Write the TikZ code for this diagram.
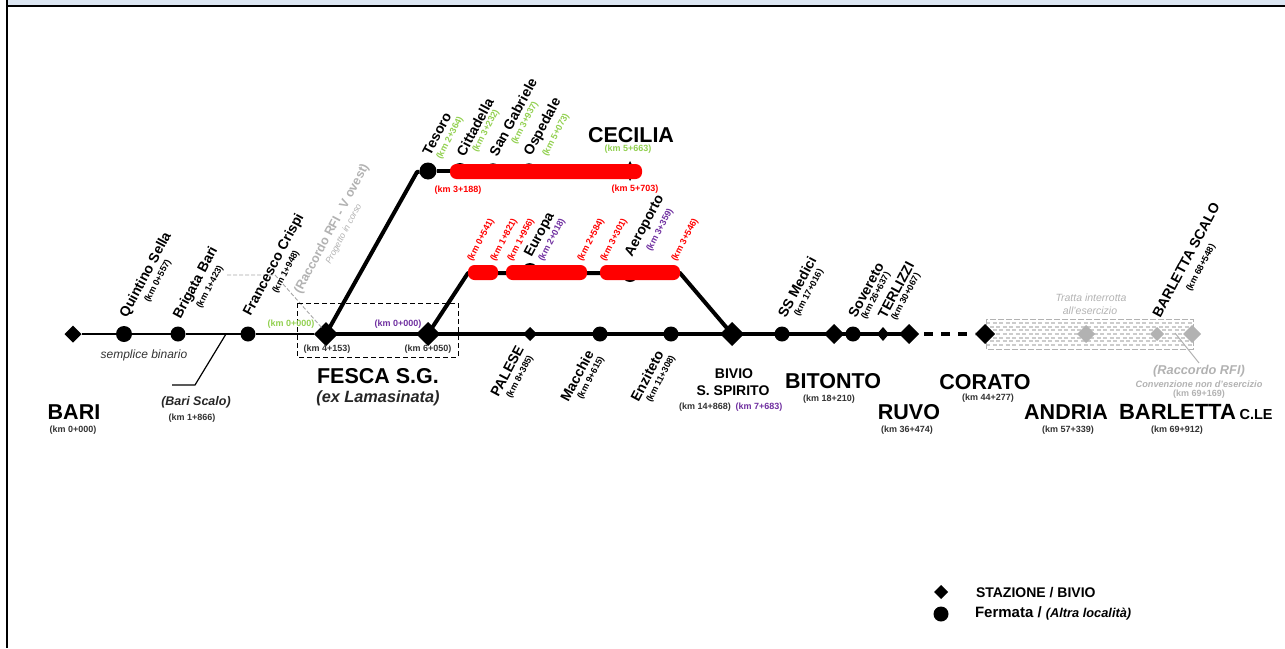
\documentclass[tikz,border=0pt]{standalone}
\usepackage{fontspec}
\setmainfont{Liberation Sans}
\usetikzlibrary{shapes.geometric}
\definecolor{kmgreen}{HTML}{92D050}
\definecolor{kmpurple}{HTML}{7030A0}
\definecolor{kmgray}{HTML}{B2B2B2}
\definecolor{topband}{HTML}{DCE6F2}
\tikzset{
  x=1pt,y=-1pt,
  every node/.style={outer sep=0pt},
  bigdia/.style={shape=diamond,fill=black,inner sep=0pt,minimum width=24pt,minimum height=24pt},
  middia/.style={shape=diamond,fill=black,inner sep=0pt,minimum width=17pt,minimum height=17pt},
  smalldia/.style={shape=diamond,fill=black,inner sep=0pt,minimum width=14pt,minimum height=14pt},
  greydia/.style={shape=diamond,fill=kmgray,inner sep=0pt,minimum width=16pt,minimum height=16pt},
  stopdot/.style={circle,fill=black,inner sep=0pt,minimum size=16pt},
  redbar/.style={fill=red,rounded corners=6.5pt,inner sep=0pt,minimum height=15pt},
  stnlabel/.style={font=\bfseries\fontsize{14}{14}\selectfont,inner sep=0pt,rotate=62},
  kmr/.style={font=\bfseries\fontsize{9}{9}\selectfont,inner sep=0pt,rotate=62},
  kmh/.style={font=\bfseries\fontsize{9}{9}\selectfont,inner sep=0pt,text=black!80},
  bigt/.style={font=\bfseries\fontsize{21.5}{21.5}\selectfont,inner sep=0pt},
  midt/.style={font=\bfseries\fontsize{14}{14}\selectfont,inner sep=0pt},
  thintrack/.style={line width=1.5pt},
  thicktrack/.style={line width=4pt},
  leader/.style={line width=1pt,kmgray},
}
\begin{document}
\begin{tikzpicture}
\useasboundingbox (0,0) rectangle (1285,648);
\fill[topband] (8,0) rectangle (1285,5);
\fill[black] (6,5) rectangle (1285,7);
\fill[black] (6,0) rectangle (8,648);

% disused section band
\foreach \r/\p in {323/0,326.7/3,330.4/0,334/3,337.7/0,341.4/3,345/0}
  \draw[gray!40,line width=1.9pt,dash pattern=on 4pt off 2.5pt,dash phase=\p pt] (986,\r) -- (1193,\r);
\draw[kmgray,line width=1pt,dash pattern=on 6pt off 2pt] (986,319) rectangle (1193,349);

% stations
\node[middia] (bari) at (73,334) {};
\node[stopdot] (sella) at (124,334) {};
\node[stopdot,minimum size=15pt] (brigata) at (178,334) {};
\node[stopdot,minimum size=15pt] (crispi) at (248,334) {};
\node[bigdia] (fesca) at (326,334) {};
\node[bigdia] (split) at (428,334) {};
\node[smalldia] (palese) at (530,334) {};
\node[stopdot,minimum size=15pt] (macchie) at (600,334) {};
\node[stopdot,minimum size=15pt] (enziteto) at (671,334) {};
\node[bigdia] (bivio) at (732,334) {};
\node[stopdot,minimum size=15pt] (medici) at (782,334) {};
\node[bigdia,minimum width=20pt,minimum height=20pt] (bitonto) at (834,334) {};
\node[stopdot,minimum size=15pt] (sovereto) at (853,334) {};
\node[smalldia,minimum width=12pt,minimum height=14pt] (terlizzi) at (883,334) {};
\node[bigdia,minimum width=20pt,minimum height=20pt] (ruvo) at (909,334) {};
\node[bigdia,minimum width=20pt,minimum height=20pt] (corato) at (985,334) {};
\node[greydia,minimum width=18pt,minimum height=18pt] (andria) at (1086,334) {};
\node[greydia,minimum width=14pt,minimum height=14pt] (scalo) at (1157,334) {};
\node[greydia,minimum width=18pt,minimum height=18pt] (barletta) at (1192,334) {};
\node[stopdot,minimum size=17pt] (tesoro) at (428,171) {};
\node[stopdot,minimum size=16pt] (cittadella) at (460,171) {};
\node[stopdot,minimum size=15.5pt] (gabriele) at (493,171) {};
\node[stopdot,minimum size=15.5pt] (ospedale) at (529,171) {};
\node[shape=diamond,fill=black,inner sep=0pt,minimum width=10pt,minimum height=20pt] (cecilia) at (630,171) {};
\node[stopdot] (europa) at (530,271) {};
\node[stopdot] (aeroporto) at (630,274) {};
\coordinate (bendA) at (417,172);
\coordinate (bendB) at (468,273);
\coordinate (bendC) at (680,273);
\coordinate (scalotap) at (226,334);
\coordinate (scaloA) at (195,385);
\coordinate (scaloB) at (172,385);
\coordinate (raccA) at (227,275);
\coordinate (raccB) at (275,275);
\coordinate (raccC) at (322,328);
\coordinate (rfiA) at (1175,333);
\coordinate (rfiB) at (1199,363);

% connectors
\draw[thintrack] (bari) -- (sella);
\draw[thintrack] (sella) -- (brigata);
\draw[thintrack] (brigata) -- (crispi);
\draw[thintrack] (crispi) -- (fesca);
\draw[thicktrack] (fesca.center) -- (split.center);
\draw[thicktrack] (split.center) -- (palese.center);
\draw[thicktrack] (palese.center) -- (macchie.center);
\draw[thicktrack] (macchie.center) -- (enziteto.center);
\draw[thicktrack] (enziteto.center) -- (bivio.center);
\draw[thicktrack] (bivio.center) -- (medici.center);
\draw[thicktrack] (medici.center) -- (bitonto.center);
\draw[thicktrack] (bitonto.center) -- (sovereto.center);
\draw[thicktrack] (sovereto.center) -- (terlizzi.center);
\draw[thicktrack] (terlizzi.center) -- (ruvo.center);
\draw[thicktrack,dash pattern=on 9pt off 8pt,dash phase=12pt] (ruvo) -- (corato);
\draw[thicktrack,line join=round] (fesca.center) -- (bendA) -- (tesoro);
\draw[thicktrack] (tesoro) -- (cecilia);
\draw[thicktrack,line join=round] (split.center) -- (bendB) -- (bendC) -- (bivio.center);
\draw[line width=1.2pt] (scalotap) -- (scaloA) -- (scaloB);
\draw[gray!70,line width=.9pt,dash pattern=on 4pt off 2pt] (raccA) -- (raccB) -- (raccC);
\draw[leader] (rfiA) -- (rfiB);
\draw[line width=1pt,dash pattern=on 5pt off 3pt] (297,303) rectangle (458,357);

% red sections
\node[redbar,minimum width=192pt] (barA) at (546,171.5) {};
\node[redbar,minimum width=30pt] (barB) at (483,272.5) {};
\node[redbar,minimum width=81pt] (barC) at (546.5,272.5) {};
\node[redbar,minimum width=80pt] (barD) at (640,272.5) {};

% horizontal labels
\node[bigt] (tBari) at (74,412) {BARI};
\node[kmh] (kBari) at (73,430) {(km 0+000)};
\node[font=\bfseries\itshape\fontsize{12.5}{12.5}\selectfont,text=black!85] (tScalo) at (196,402) {(Bari Scalo)};
\node[kmh] (kScalo) at (192,418) {(km 1+866)};
\node[font=\itshape\fontsize{12}{12}\selectfont,text=black!80] (tSempl) at (144,355) {semplice binario};
\node[bigt] (tFesca) at (378,376) {FESCA S.G.};
\node[font=\bfseries\itshape\fontsize{16.3}{16.3}\selectfont,text=black!85] (tExL) at (378,398) {(ex Lamasinata)};
\node[kmh] (kFa) at (327,349.5) {(km 4+153)};
\node[kmh] (kFb) at (428,349.5) {(km 6+050)};
\node[kmh,text=kmgreen] (kFc) at (291,324) {(km 0+000)};
\node[kmh,text=kmpurple] (kFd) at (398,324) {(km 0+000)};
\node[bigt] (tCecilia) at (631,135) {CECILIA};
\node[kmh,text=kmgreen] (kCa) at (628,149) {(km 5+663)};
\node[kmh,text=red] (kCb) at (458,190) {(km 3+188)};
\node[kmh,text=red] (kCc) at (635,189) {(km 5+703)};
\node[midt] (tBivio) at (734,374) {BIVIO};
\node[midt] (tSpirito) at (733,391) {S. SPIRITO};
\node[kmh] (kBa) at (705,407) {(km 14+868)};
\node[kmh,text=kmpurple] (kBb) at (759,407) {(km 7+683)};
\node[bigt] (tBitonto) at (833,381) {BITONTO};
\node[kmh] (kBit) at (829,399) {(km 18+210)};
\node[bigt] (tRuvo) at (909,412) {RUVO};
\node[kmh] (kRuvo) at (907,430) {(km 36+474)};
\node[bigt] (tCorato) at (985,382) {CORATO};
\node[kmh] (kCor) at (988,398) {(km 44+277)};
\node[bigt] (tAndria) at (1066,412) {ANDRIA};
\node[kmh] (kAnd) at (1068,430) {(km 57+339)};
\node[bigt,anchor=west,font=\bfseries\fontsize{22}{22}\selectfont] (tBarl) at (1119,412) {BARLETTA\,\fontsize{14.5}{14.5}\selectfont C.LE};
\node[kmh] (kBar) at (1177,430) {(km 69+912)};
\node[font=\itshape\fontsize{10.5}{10.5}\selectfont,text=kmgray] (tTrA) at (1091,298) {Tratta interrotta};
\node[font=\itshape\fontsize{10.5}{10.5}\selectfont,text=kmgray] (tTrB) at (1090,311) {all'esercizio};
\node[font=\bfseries\itshape\fontsize{12.8}{12.8}\selectfont,text=kmgray] (tRf) at (1199,371) {(Raccordo RFI)};
\node[font=\bfseries\itshape\fontsize{9.2}{9.2}\selectfont,text=kmgray] (tCn) at (1199,384) {Convenzione non d'esercizio};
\node[kmh,text=kmgray] (kRf) at (1199,394) {(km 69+169)};

% rotated labels
\node[stnlabel] (nSella) at (146,275) {Quintino Sella};
\node[kmr] (rSella) at (158,281) {(km 0+557)};
\node[stnlabel] (nBrig) at (196,283) {Brigata Bari};
\node[kmr] (rBrig) at (210,287) {(km 1+423)};
\node[stnlabel] (nCris) at (274,265) {Francesco Crispi};
\node[kmr] (rCris) at (286,272) {(km 1+948)};
\node[stnlabel,text=kmgray,font=\bfseries\fontsize{12.5}{12.5}\selectfont] (nRacc) at (332,229) {(Raccordo RFI - V ovest)};
\node[kmr,text=kmgray,font=\itshape\fontsize{8.8}{8.8}\selectfont] (nProg) at (344,234) {Progetto in corso};
\node[stnlabel,font=\bfseries\fontsize{14}{14}\selectfont] (nTes) at (437,134) {Tesoro};
\node[kmr,text=kmgreen] (rTes) at (450,138) {(km 2+364)};
\node[stnlabel] (nCit) at (475,127) {Cittadella};
\node[kmr,text=kmgreen] (rCit) at (486,131) {(km 3+232)};
\node[stnlabel] (nGab) at (513,117) {San Gabriele};
\node[kmr,text=kmgreen] (rGab) at (525,123) {(km 3+937)};
\node[stnlabel] (nOsp) at (543,127) {Ospedale};
\node[kmr,text=kmgreen] (rOsp) at (556,135) {(km 5+073)};
\node[stnlabel] (nEur) at (540,235) {Europa};
\node[kmr,text=kmpurple] (rEur) at (552,240) {(km 2+018)};
\node[stnlabel] (nAer) at (645,226) {Aeroporto};
\node[kmr,text=kmpurple] (rAer) at (660,230) {(km 3+359)};
\node[kmr,text=red] (rA) at (481,240) {(km 0+541)};
\node[kmr,text=red] (rB) at (504,240) {(km 1+821)};
\node[kmr,text=red] (rC) at (521,240) {(km 1+956)};
\node[kmr,text=red] (rD) at (591,240) {(km 2+584)};
\node[kmr,text=red] (rE) at (614,240) {(km 3+301)};
\node[kmr,text=red] (rF) at (685,240) {(km 3+546)};
\node[stnlabel] (nPal) at (507,371) {PALESE};
\node[kmr] (rPal) at (520,377) {(km 8+385)};
\node[stnlabel] (nMac) at (577,376) {Macchie};
\node[kmr] (rMac) at (591,378) {(km 9+615)};
\node[stnlabel] (nEnz) at (647,376) {Enziteto};
\node[kmr] (rEnz) at (661,379) {(km 11+308)};
\node[stnlabel] (nMed) at (797,287) {SS Medici};
\node[kmr] (rMed) at (809,293) {(km 17+016)};
\node[stnlabel] (nSov) at (866,290) {Sovereto};
\node[kmr] (rSov) at (876,296) {(km 26+637)};
\node[stnlabel] (nTer) at (896,290) {TERLIZZI};
\node[kmr] (rTer) at (906,297) {(km 30+067)};
\node[stnlabel,font=\bfseries\fontsize{14}{14}\selectfont] (nSca) at (1186,260) {BARLETTA SCALO};
\node[kmr] (rSca) at (1201,268) {(km 68+548)};

% legend
\node[middia,minimum width=14pt,minimum height=14pt] (legA) at (941,592) {};
\node[stopdot,minimum size=15pt] (legB) at (941,614) {};
\node[anchor=west,inner sep=0pt,font=\bfseries\fontsize{14}{14}\selectfont] (legT) at (976,593) {STAZIONE / BIVIO};
\node[anchor=west,inner sep=0pt,font=\bfseries\fontsize{15}{15}\selectfont] (legU) at (975,613) {Fermata / {\itshape\fontsize{12.8}{12.8}\selectfont (Altra località)}};
\end{tikzpicture}
\end{document}
